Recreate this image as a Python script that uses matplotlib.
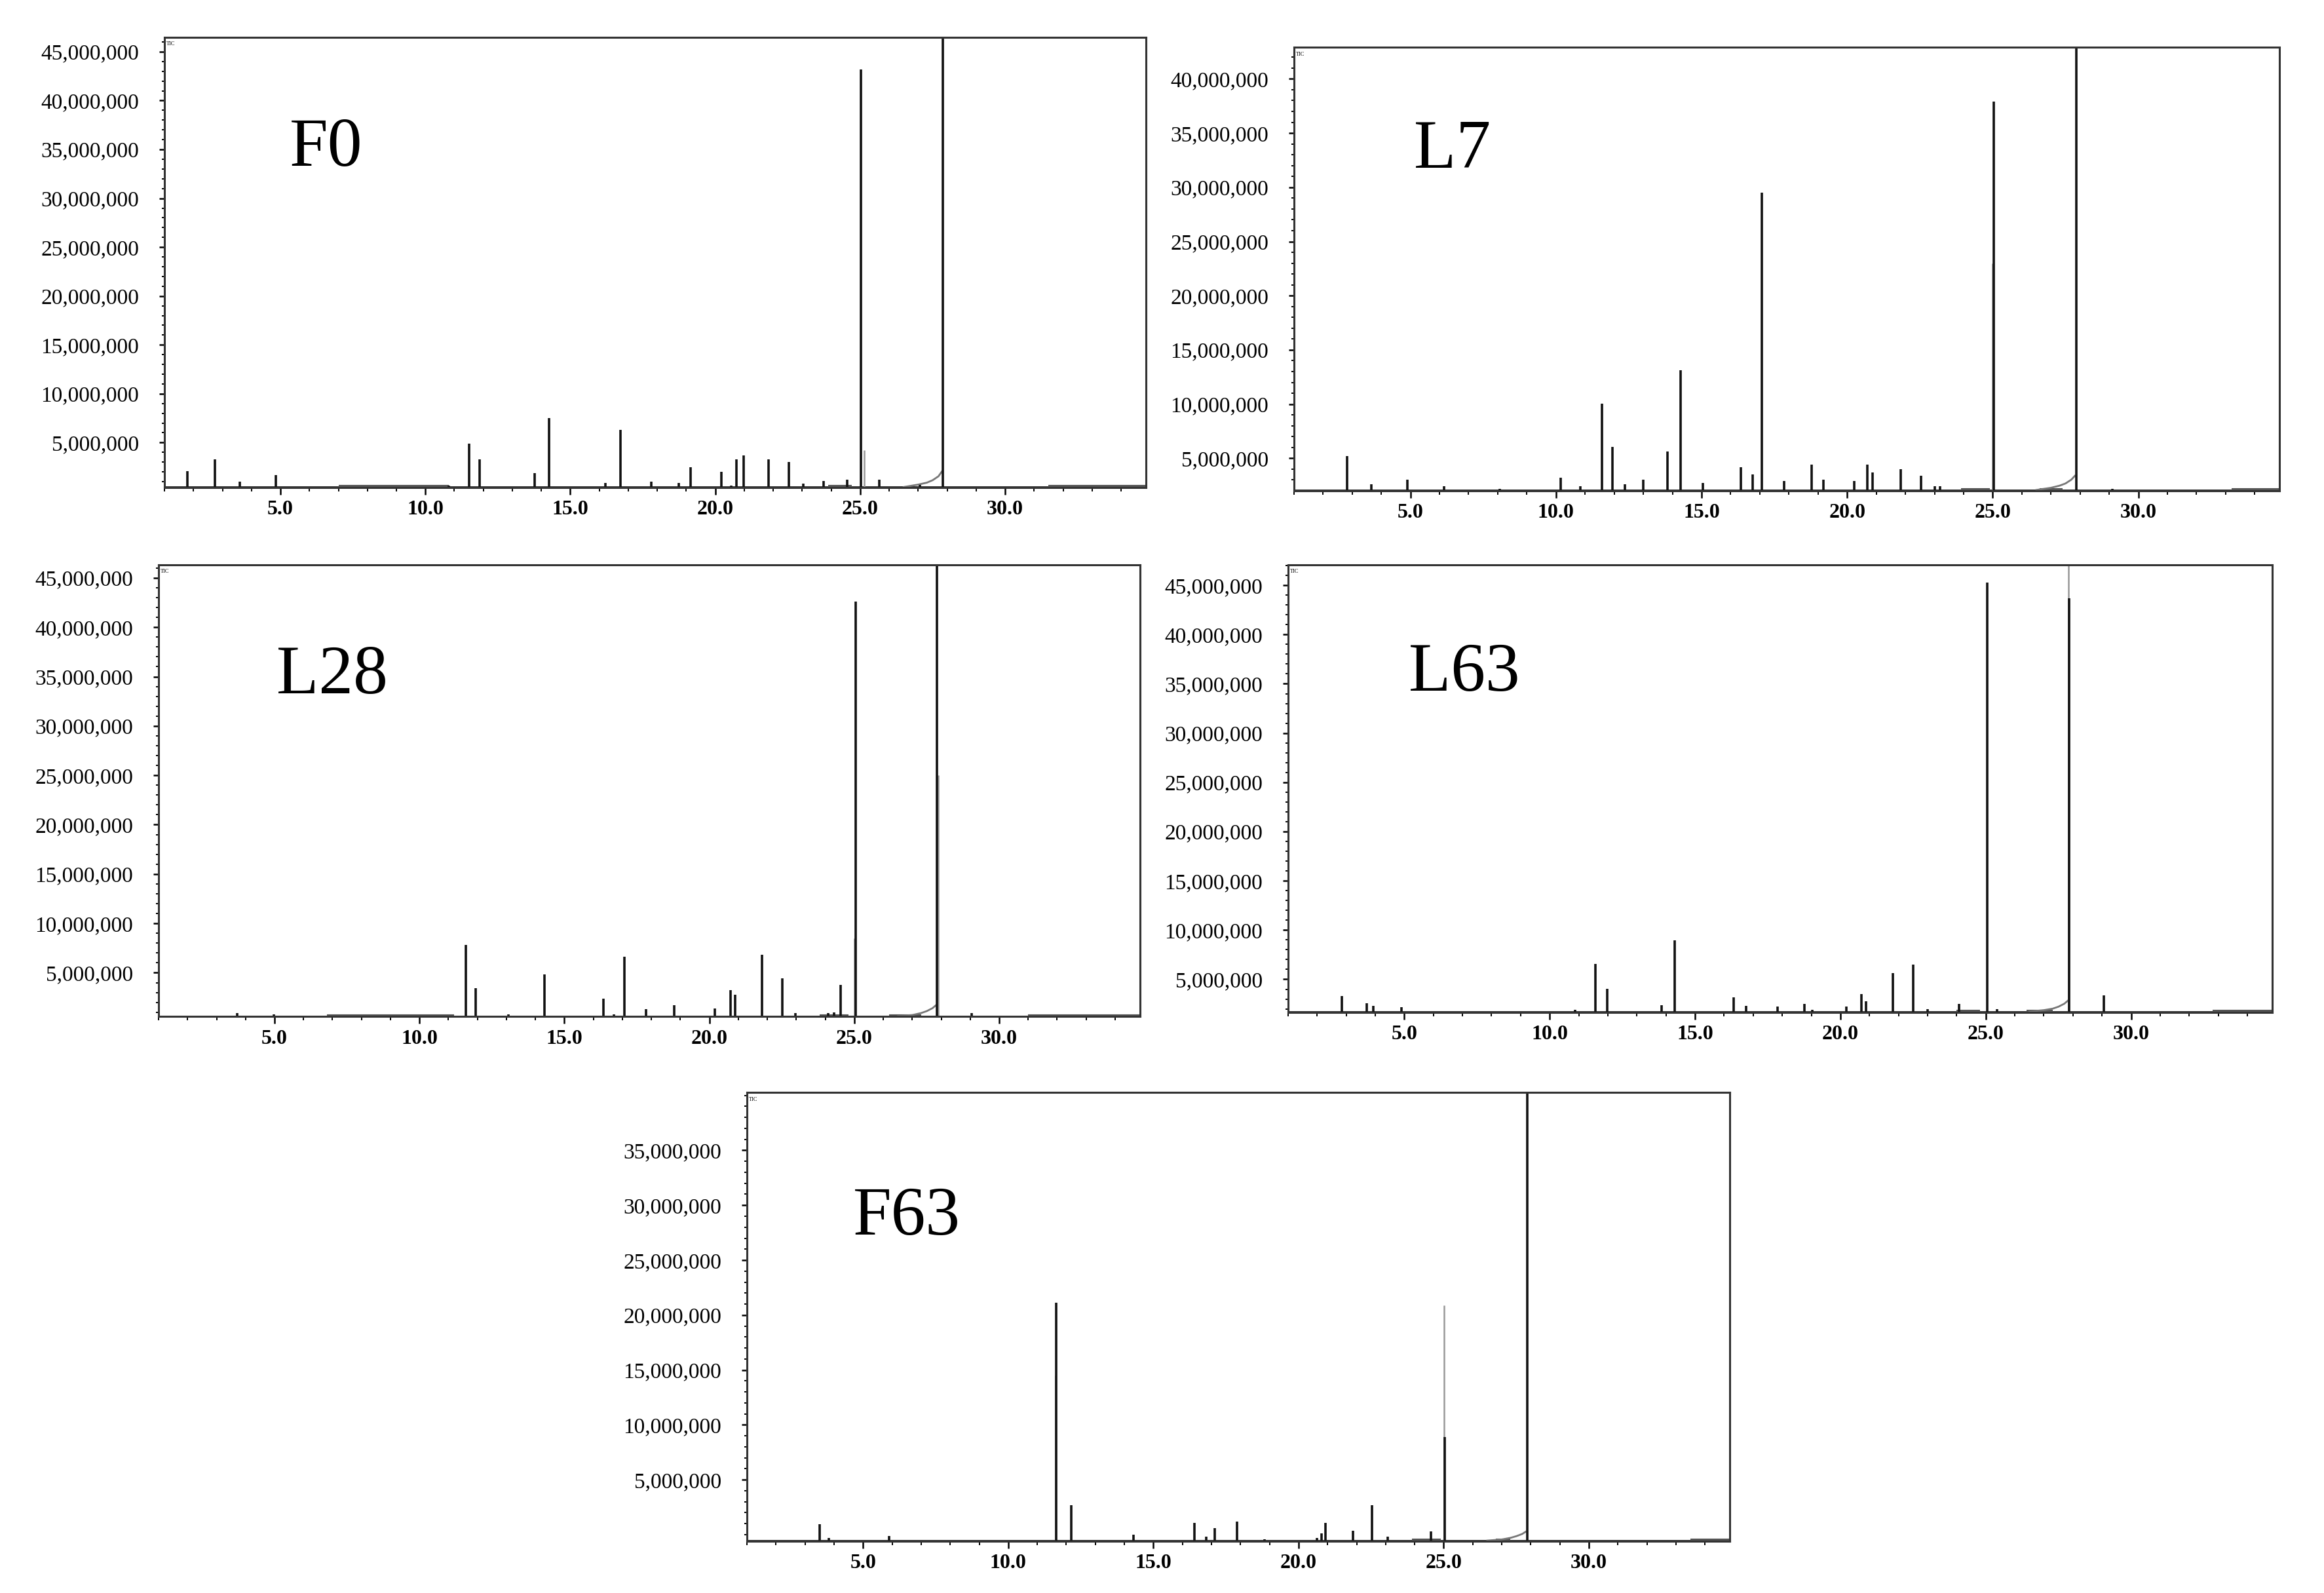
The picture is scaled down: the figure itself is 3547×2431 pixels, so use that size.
import numpy as np
import matplotlib
matplotlib.use("Agg")
import matplotlib.pyplot as plt
from matplotlib.ticker import MultipleLocator

plt.rcParams['font.family'] = ['Liberation Serif', 'DejaVu Serif']

# retention time (min) and peak apex (in millions, read in the label units of each panel)
f0_rt = [1.8, 2.73, 3.6, 4.84, 8.0, 10.8, 11.52, 11.87, 13.77, 14.26, 16.21, 16.72, 17.79, 18.74,
         19.16, 20.2, 20.55, 20.72, 20.97, 21.83, 22.53, 23.04, 23.73, 24.54, 25.03, 25.66, 27.05, 27.86]
f0_val = [2.1, 3.3, 1.0, 1.7, 0.5, 0.6, 4.9, 3.3, 1.9, 7.5, 0.85, 6.3, 1.0, 0.85,
          2.5, 2.0, 0.6, 3.3, 3.7, 3.3, 3.0, 0.8, 1.1, 1.2, 43.2, 1.2, 0.7, 60]

l7_rt = [2.82, 3.65, 4.9, 6.16, 8.06, 10.17, 10.83, 11.57, 11.94, 12.36, 13.0, 13.84, 14.28, 15.04,
         16.35, 16.75, 17.07, 17.84, 18.78, 19.19, 20.24, 20.7, 20.87, 21.83, 22.53, 23.0, 23.2,
         25.04, 27.88, 29.1]
l7_val = [5.23, 2.6, 3.0, 2.4, 2.2, 3.2, 2.4, 10.07, 6.07, 2.6, 3.0, 5.6, 13.1, 2.7,
          4.2, 3.5, 29.5, 2.9, 4.4, 3.0, 2.9, 4.4, 3.7, 4.0, 3.4, 2.4, 2.4,
          37.9, 60, 2.2]

l28_rt = [3.71, 4.97, 11.6, 11.93, 13.06, 14.32, 16.34, 16.71, 17.06, 17.82, 18.78, 20.19, 20.73,
          20.89, 21.82, 22.52, 22.97, 24.1, 24.3, 24.52, 25.04, 27.85, 29.06]
l28_val = [0.93, 0.78, 7.8, 3.44, 0.8, 4.8, 2.37, 0.8, 6.6, 1.3, 1.7, 1.35, 3.26,
           2.77, 6.8, 4.4, 0.93, 0.9, 0.95, 3.8, 42.6, 60, 0.93]

l63_rt = [2.85, 3.72, 3.93, 4.91, 10.88, 11.58, 11.99, 13.86, 14.30, 16.34, 16.75, 17.84, 18.77,
          19.03, 20.2, 20.73, 20.88, 21.81, 22.51, 23.01, 24.09, 25.05, 25.4, 27.87, 29.07]
l63_val = [3.3, 2.55, 2.3, 2.2, 1.9, 6.57, 4.03, 2.37, 8.98, 3.2, 2.3, 2.25, 2.5,
           1.9, 2.25, 3.48, 2.8, 5.64, 6.48, 2.0, 2.5, 45.3, 2.0, 43.7, 3.4]

f63_rt = [3.5, 3.82, 5.89, 11.66, 12.16, 14.32, 16.41, 16.83, 17.11, 17.87, 18.83, 20.64, 20.79,
          20.92, 21.88, 22.53, 23.06, 24.56, 25.04, 27.87]
f63_val = [0.95, -0.3, -0.1, 21.1, 2.7, 0.0, 1.1, -0.2, 0.6, 1.2, -0.4, -0.3, 0.1,
           1.1, 0.37, 2.7, -0.2, 0.3, 8.9, 60]

# lighter (grey) traces of some peaks
f0_grey = [(25.15, 4.2)]
l7_grey = [(25.0, 23.0)]
l28_grey = [(25.0, 8.5), (27.9, 25.0)]
l63_grey = [(27.84, 60)]
f63_grey = [(25.02, 20.9), (11.62, 14.5)]

# tailing hump in front of the big peak at ~27.9 min
hump_t = [26.5, 27.0, 27.3, 27.5, 27.7, 27.82]
f0_hump = [0.0, 0.25, 0.45, 0.7, 1.1, 1.6]
l7_hump = [0.0, 0.2, 0.4, 0.6, 0.95, 1.3]
l28_hump = [0.0, 0.1, 0.3, 0.5, 0.8, 1.1]
l63_hump = [0.0, 0.15, 0.3, 0.5, 0.8, 1.1]
f63_hump = [0.0, 0.1, 0.25, 0.4, 0.6, 0.8]

# noisy (thicker) stretches of the baseline
f0_noise = [(7.0, 10.8), (23.9, 24.7), (31.5, 34.85)]
l7_noise = [(23.9, 24.9), (26.6, 27.4), (33.2, 34.85)]
l28_noise = [(6.8, 11.2), (23.8, 24.8), (26.2, 27.3), (31.0, 34.85)]
l63_noise = [(24.0, 24.8), (26.4, 27.3), (32.8, 34.85)]
f63_noise = [(23.9, 24.9), (26.8, 27.3), (33.5, 34.85)]

panel_names = ["F0", "L7", "L28", "L63", "F63"]
ylims = [(0.4, 46.5), (2.03, 42.9), (0.56, 46.35), (1.67, 47.1), (-0.59, 40.3)]
ytick_vals = [list(range(5, 50, 5)), list(range(5, 45, 5)), list(range(5, 50, 5)),
              list(range(5, 50, 5)), list(range(5, 40, 5))]
xtick_vals = [5, 10, 15, 20, 25, 30]

W, H = 1568, 1075
# axes boxes in reference pixels: left, right, top, bottom
boxes = [(111, 773, 25, 329), (873, 1538, 32, 331), (107, 769, 381, 686),
         (869, 1533, 381, 683), (504, 1167, 737, 1040)]
name_pos = [(220, 112), (980, 113), (224, 468), (988, 466), (612, 833)]

fig = plt.figure(figsize=(17.735, 12.155), dpi=200)


def draw_panel(box, rt, val, ylim, yt, hump, noise, grey):
    l, r, t, b = box
    ax = fig.add_axes([l / W, 1 - b / H, (r - l) / W, (b - t) / H])
    x0, x1 = 1.0, 34.85
    ax.set_xlim(x0, x1)
    ax.set_ylim(*ylim)
    base = ylim[0] + 0.05
    ax.hlines(base, x0, x1, color='#222', lw=1.0)
    for a, c in noise:
        ax.hlines(base, a, c, color='#555', lw=2.2)
    ax.plot(hump_t, base + np.array(hump), color='#777', lw=1.0)
    if grey:
        ax.vlines([g[0] for g in grey], base, [g[1] for g in grey], color='#999', lw=0.9)
    ax.vlines(rt, base, val, color='#111', lw=1.3)

    ax.set_xticks(xtick_vals, [f"{v:.1f}" for v in xtick_vals])
    ax.set_yticks(yt, [f"{v * 1000000:,}" for v in yt])
    ax.xaxis.set_minor_locator(MultipleLocator(1))
    ax.yaxis.set_minor_locator(MultipleLocator(1))
    ax.tick_params(axis='x', which='major', direction='out', length=4, width=0.9, pad=3,
                   labelsize=11.5)
    ax.tick_params(axis='x', which='minor', direction='out', length=2, width=0.7)
    ax.tick_params(axis='y', which='major', direction='out', length=3, width=0.9, pad=11,
                   labelsize=12)
    ax.tick_params(axis='y', which='minor', direction='out', length=1.5, width=0.7)
    for lab in ax.get_xticklabels():
        lab.set_fontweight('bold')
    for s in ax.spines.values():
        s.set_linewidth(1.1)
        s.set_color('#333')
    ax.text(0.002, 0.99, "TIC", transform=ax.transAxes, fontsize=3, va='top', ha='left')
    return ax


panels = [
    (f0_rt, f0_val, f0_hump, f0_noise, f0_grey),
    (l7_rt, l7_val, l7_hump, l7_noise, l7_grey),
    (l28_rt, l28_val, l28_hump, l28_noise, l28_grey),
    (l63_rt, l63_val, l63_hump, l63_noise, l63_grey),
    (f63_rt, f63_val, f63_hump, f63_noise, f63_grey),
]

for i, (rt, val, hump, noise, grey) in enumerate(panels):
    draw_panel(boxes[i], rt, val, ylims[i], ytick_vals[i], hump, noise, grey)
    px, py = name_pos[i]
    fig.text(px / W, 1 - py / H, panel_names[i], fontsize=38, ha='center', va='baseline')

fig.savefig("out.png", dpi=200, facecolor='white')
